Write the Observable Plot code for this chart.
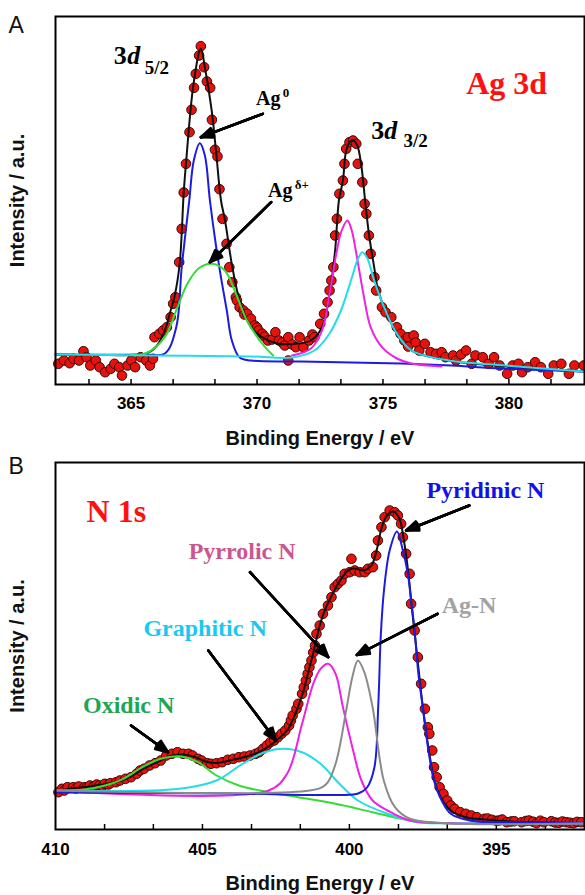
<!DOCTYPE html>
<html><head><meta charset="utf-8">
<script src="https://cdn.jsdelivr.net/npm/d3@7"></script>
<script src="https://cdn.jsdelivr.net/npm/@observablehq/plot@0.6"></script>
<style>
body{margin:0;background:#fff;}
#wrap{position:relative;width:585px;height:895px;overflow:hidden;background:#fff;}
#pa{position:absolute;left:0;top:0;}
#pb{position:absolute;left:0;top:455px;}
</style></head><body>
<div id="wrap"><div id="pa"></div><div id="pb"></div></div>
<script>
// ---------- Panel A: Ag 3d (binding energy eV, intensity a.u.) ----------
const agPoints = [[362.11,20.7],[362.33,24],[362.56,21.3],[362.71,25.7],[362.93,24],[363.11,33.3],[363.23,27.3],[363.38,19],[363.6,24],[363.75,17.3],[363.97,12.3],[364.19,15.7],[364.34,20.7],[364.53,17.3],[364.64,9],[364.86,19],[365.01,24],[365.16,17.3],[365.38,27.3],[365.6,24],[365.75,19],[365.87,25.7],[365.93,47.3],[366.12,50.7],[366.27,54],[366.42,57.3],[366.57,67.3],[366.67,80.7],[366.76,87.3],[366.91,122.3],[367.01,155.7],[367.09,192],[367.18,220.7],[367.32,252.3],[367.4,274.7],[367.5,296.7],[367.57,310.7],[367.7,329],[367.77,338.3],[367.9,317.3],[368.01,303],[368.14,296.7],[368.21,264.7],[368.33,234.7],[368.43,228],[368.51,195.3],[368.63,165.7],[368.79,140.7],[368.9,117.3],[369.02,102.3],[369.16,87.3],[369.2,84],[369.31,77.3],[369.46,74],[369.5,70],[369.61,70.7],[369.76,65.7],[369.91,59],[370.0,57],[370.06,54],[370.21,50.7],[370.3,48],[370.43,44],[370.6,45],[370.73,52.3],[370.87,44],[371.0,42],[371.1,39],[371.24,47.3],[371.24,24],[371.4,40],[371.54,37.3],[371.69,47.3],[371.84,37.3],[372.06,44],[372.2,50],[372.28,47.3],[372.51,60.7],[372.66,70.7],[372.8,82.3],[372.88,94],[372.95,104],[373.03,117.3],[373.1,149],[373.17,165.7],[373.27,190.7],[373.41,204],[373.47,220.7],[373.54,235.7],[373.67,242.3],[373.81,244],[373.94,240.7],[374.0,220.7],[374.18,202.3],[374.27,180.7],[374.34,170.7],[374.44,149],[374.51,130.7],[374.66,107.3],[374.73,94],[374.96,77.3],[375.1,72.3],[375.33,67.3],[375.55,57.3],[375.7,50.7],[375.85,44],[375.99,47.3],[376.0,38],[376.22,49],[376.3,42],[376.44,34],[376.66,40.7],[376.89,32.3],[377.11,30.7],[377.33,32.3],[377.48,27.3],[377.78,29],[377.9,24],[378.1,30],[378.3,34],[378.52,20.7],[378.67,29],[378.96,27.3],[379.19,20.7],[379.41,27.3],[379.63,19],[379.93,10.7],[380.15,19],[380.38,20.7],[380.52,12.3],[380.75,17.3],[381.04,22.3],[381.27,17.3],[381.56,10.7],[381.78,19],[382.08,20.7],[382.38,10.7],[382.6,19],[382.97,19]];
const agFit = [[362,30],[364,29.5],[365.6,31],[366.0,38],[366.34,54],[366.57,74],[366.72,87.3],[366.93,121],[367.09,192],[367.18,221],[367.48,300.7],[367.77,336],[367.93,317.3],[368.2,274],[368.37,234],[368.57,184],[368.73,164],[369.02,117.3],[369.31,84],[369.76,57.3],[370.2,47.3],[370.79,41],[371.54,40.7],[372.14,44],[372.58,57.3],[372.88,91],[373.1,134],[373.25,184],[373.41,204],[373.54,234],[373.7,243],[373.82,244],[373.98,239],[374.14,219],[374.29,184],[374.44,151],[374.65,117.3],[374.81,94],[375.1,74],[375.55,51],[376.13,34],[377.63,24],[379.9,18],[383,13]];
const ag0Peak = [[362,30],[365.5,30],[366.34,31],[366.79,57],[367.01,117],[367.31,184],[367.49,224],[367.73,241.3],[367.93,229],[368.13,184],[368.37,139],[368.57,107],[368.8,74],[369.0,44],[369.31,27],[369.76,24],[371.75,23],[375.73,21],[377.72,19],[379.7,16],[383,13]];
const agDeltaPeak = [[365.0,30],[365.58,31],[366.34,47.3],[366.79,74],[367.24,101],[367.68,116],[368.2,120.7],[368.72,114],[369.16,91],[369.6,64],[370.2,41],[370.64,29]];
const ag32aPeak = [[371.39,29],[372.14,36],[372.58,54],[372.88,91],[373.17,134],[373.36,154],[373.59,164],[373.76,154],[373.92,134],[374.22,91],[374.51,57.3],[374.96,37.3],[375.55,26],[376.13,21],[377.32,18]];
const ag32bPeak = [[362,30],[365.78,29],[369.76,28],[371.39,27],[372.28,34],[372.88,51],[373.33,74],[373.77,107.3],[373.98,124],[374.18,132.3],[374.38,126],[374.65,104],[375.1,74],[375.55,51],[376.13,34],[377.63,24],[379.85,19],[383,13]];
const agTickLabels = [365, 370, 375, 380];
const agMinorTicks = [363.33, 365, 366.67, 368.33, 370, 371.67, 373.33, 375, 376.67, 378.33, 380, 381.67];
const agArrows = [{x1:370.23,y1:270.7,x2:367.77,y2:247.3},{x1:370.56,y1:182.3,x2:368.13,y2:122.3}];
const agNotes = [
  {text:"Ag 3d", e:379.91, i:291, kind:"title"},
  {text:"3", e:364.31, i:321, kind:"big"},
  {text:"d", e:364.85, i:321, kind:"bigItalic"},
  {text:"5/2", e:365.54, i:311, kind:"sub"},
  {text:"3", e:374.53, i:245.7, kind:"big"},
  {text:"d", e:375.05, i:245.7, kind:"bigItalic"},
  {text:"3/2", e:375.81, i:237.3, kind:"sub"},
  {text:"Ag", e:369.96, i:280, kind:"small"},
  {text:"0", e:371.02, i:288, kind:"sup"},
  {text:"Ag", e:370.44, i:187.3, kind:"small"},
  {text:"δ+", e:371.5, i:196, kind:"sup"}
];

// ---------- Panel B: N 1s ----------
const nPoints = [[409.9,37.3],[409.78,40.7],[409.7,39],[409.59,42.3],[409.4,42.3],[409.3,41],[409.21,43],[409.02,42.3],[408.95,41.5],[408.83,44],[408.7,43.3],[408.6,45],[408.51,44],[408.4,43.5],[408.32,45.7],[408.2,45],[408.13,46.3],[407.94,47.3],[407.81,49],[407.62,50.7],[407.43,52.3],[407.24,55.7],[407.12,59],[406.99,60.7],[406.8,64],[406.61,66.3],[406.42,69],[406.23,74],[406.04,75.7],[405.85,77.3],[405.66,75.7],[405.47,75.7],[405.34,74],[405.15,70.7],[405.03,69],[404.84,66.3],[404.71,65.7],[404.52,66.3],[404.33,67.3],[404.14,69.7],[403.95,70.7],[403.76,72.3],[403.57,73],[403.38,74],[403.19,75.7],[403.07,77.3],[402.94,80.7],[402.81,84],[402.69,87.3],[402.56,89],[402.43,92.3],[402.31,95.7],[402.18,99],[402.05,104],[401.99,109],[401.93,114],[401.8,120.7],[401.74,125.7],[401.61,135.7],[401.55,142.3],[401.48,149],[401.42,155.7],[401.36,162.3],[401.29,169],[401.23,177],[401.17,184],[401.12,195.7],[401.01,204],[400.9,215.7],[400.73,224],[400.61,232.3],[400.5,242.3],[400.39,245.7],[400.27,249],[400.16,255.7],[399.99,257.3],[399.93,270.7],[399.82,259],[399.65,257.3],[399.48,257.3],[399.37,260.7],[399.2,262.3],[399.09,274],[399.03,289],[398.91,302.3],[398.8,312.3],[398.63,319],[398.46,317.3],[398.35,314],[398.24,305.7],[398.18,292.3],[398.07,275.7],[397.95,255.7],[397.9,225.7],[397.78,199],[397.67,172.3],[397.56,145.7],[397.43,120.7],[397.33,102.3],[397.28,95.7],[397.18,79],[397.12,62.3],[397.03,52.3],[396.93,42.3],[396.8,35.7],[396.67,29],[396.55,24],[396.42,20.7],[396.23,17.3],[396.04,15.7],[395.85,14],[395.66,12.3],[395.41,10.7],[395.3,11],[395.15,9.7],[395.0,8.7],[394.9,9],[394.8,10],[394.65,7.3],[394.5,8],[394.39,8.3],[394.14,7.3],[394.0,8.5],[393.89,9],[393.75,7.8],[393.63,6.3],[393.5,8.8],[393.38,7.3],[393.13,8.3],[393.0,7],[392.87,6.7],[392.75,8],[392.62,7.3],[392.5,6.8],[392.37,6.3],[392.25,7.6],[392.11,7.3]];
const nFit = [[410,38],[409.5,41],[409,42.5],[408.3,45.5],[407.6,50.5],[407.05,60],[406.5,68],[406.1,73.5],[405.7,75],[405.3,73],[404.9,68],[404.5,66.5],[404.0,69.5],[403.5,73],[403.1,77],[402.75,83],[402.4,91],[402.1,100],[401.85,115],[401.6,135],[401.4,157],[401.2,180],[401.0,205],[400.8,222],[400.6,234],[400.4,245],[400.2,254],[400.0,260],[399.8,261],[399.5,259],[399.25,264],[399.05,282],[398.9,302],[398.7,315],[398.5,318],[398.3,311],[398.15,290],[398.0,258],[397.85,215],[397.7,175],[397.5,122],[397.3,80],[397.1,48],[396.85,30],[396.5,18],[396,12],[395.4,10],[394.5,8],[392,6.5]];
const nOxidic = [[410,39],[409,40],[408.32,44],[407.69,50.7],[407.05,62.3],[406.42,70.7],[405.72,73],[405.15,67.3],[404.52,54],[403.76,44],[402.75,37.3],[401.74,32.3],[400.47,25.7],[399.21,17.3],[397.94,9],[396.67,6.3],[392,6]];
const nGraphitic = [[410,39],[405.79,40.7],[404.52,49],[403.64,65.7],[402.88,77.3],[402.24,80.7],[401.61,77.3],[400.98,65.7],[400.34,45.7],[399.71,29],[398.7,15.7],[397.69,7.3],[396.5,6.3],[392,6]];
const nPyrrolic = [[410,39],[402.75,39],[402.12,55.7],[401.61,105.7],[401.23,145.7],[400.98,160.7],[400.72,165.7],[400.47,155.7],[400.22,122.3],[399.9,82.3],[399.59,49],[399.21,29],[398.7,19],[397.94,9],[396.5,6.3],[392,6]];
const nAgN = [[410,39],[401.36,39],[400.8,45],[400.47,65.7],[400.09,122.3],[399.9,152.3],[399.71,169],[399.5,158],[399.21,122.3],[398.83,49],[398.45,22.3],[397.94,10.7],[396.67,6.3],[392,6]];
const nPyridinic = [[410,37],[404,36],[400.34,34.5],[399.7,36],[399.4,42],[399.15,62],[399.02,122],[398.93,195],[398.82,240],[398.63,279],[398.38,298],[398.18,279],[398.01,255.7],[397.9,229],[397.78,199],[397.65,155],[397.5,122],[397.31,79],[397.12,49],[396.86,29],[396.55,15.7],[395.91,9],[394,7],[392,6.3]];
const nTickLabels = [410, 405, 400, 395];
const nMinorTicks = [408.33, 406.67, 405, 403.33, 401.67, 400, 398.33, 396.67, 395, 393.33];
const nArrows = [{x1:395.92,y1:324,x2:398.07,y2:299},{x1:397.0,y1:215.7,x2:399.75,y2:174.5},{x1:403.38,y1:257.3,x2:400.72,y2:172.3},{x1:404.8,y1:179,x2:402.5,y2:89},{x1:407.43,y1:104,x2:406.17,y2:77.3}];
const nNotes = [
  {text:"N 1s", e:407.93, i:308, color:"#ff1010", size:32},
  {text:"Pyridinic N", e:395.37, i:332, color:"#1212e6", size:24},
  {text:"Pyrrolic N", e:403.65, i:271, color:"#cc5590", size:24},
  {text:"Graphitic N", e:404.91, i:194, color:"#1bc8ee", size:24},
  {text:"Ag-N", e:395.93, i:217, color:"#a3a3a3", size:24},
  {text:"Oxidic N", e:407.51, i:117, color:"#1fa652", size:24}
];

// ---------- drawing ----------
const SANS = "'Liberation Sans', Arial, Helvetica, sans-serif";
const SERIF = "'Liberation Serif', 'Times New Roman', Times, serif";
const pts = a => a.map(([e, i]) => ({e, i}));
const line = (a, stroke) => Plot.line(pts(a), {x:"e", y:"i", stroke, strokeWidth:2, curve:"catmull-rom"});
const dots = a => Plot.dot(pts(a), {x:"e", y:"i", r:4.8, fill:"#e8120c", stroke:"#3a0808", strokeWidth:1});
const fitLine = a => Plot.line(pts(a), {x:"e", y:"i", stroke:"#111", strokeWidth:2, curve:"catmull-rom"});
// arrow heads drawn several times with narrowing angles so that they look filled
const arrows = a => [44, 30, 16, 4].map(ang =>
  Plot.arrow(a, {x1:"x1", y1:"y1", x2:"x2", y2:"y2", stroke:"#000", strokeWidth:2.5, headLength:8, headAngle:ang}));

function axisMarks(minor, labels, pad) {
  return [
    Plot.axisX({ticks:minor, tickSize:-5, tickFormat:() => "", label:null, strokeWidth:1.5}),
    Plot.axisX({ticks:labels, tickSize:0, tickPadding:pad, label:null, tickFormat:d => String(d), fontSize:17, fontWeight:"bold", fontFamily:SANS}),
    Plot.text(["Binding Energy / eV"], {frameAnchor:"bottom", dy:60, lineAnchor:"bottom", fontSize:20, fontWeight:"bold", fontFamily:SANS, fill:"#111"}),
    Plot.text(["Intensity / a.u."], {frameAnchor:"left", dx:-38, rotate:-90, textAnchor:"middle", lineAnchor:"middle", fontSize:20, fontWeight:"bold", fontFamily:SANS, fill:"#111"})
  ];
}

const noteStyle = {
  title:{fontSize:32, fill:"#ff1010", textAnchor:"middle"},
  big:{fontSize:26, fill:"#000", textAnchor:"start"},
  bigItalic:{fontSize:26, fill:"#000", textAnchor:"start", fontStyle:"italic"},
  sub:{fontSize:19, fill:"#000", textAnchor:"start"},
  small:{fontSize:20, fill:"#000", textAnchor:"start"},
  sup:{fontSize:13, fill:"#000", textAnchor:"start"}
};
const agNoteMarks = Object.keys(noteStyle).map(k =>
  Plot.text(agNotes.filter(d => d.kind === k), {x:"e", y:"i", text:"text", lineAnchor:"bottom", fontFamily:SERIF, fontWeight:"bold", ...noteStyle[k]}));

const plotA = Plot.plot({
  width:585, height:455, marginTop:16, marginBottom:71, marginLeft:55, marginRight:1,
  x:{domain:[362, 383]}, y:{domain:[0, 368], axis:null},
  style:{background:"white", overflow:"visible"},
  marks:[
    ...axisMarks(agMinorTicks, agTickLabels, 12),
    dots(agPoints),
    fitLine(agFit),
    line(ag0Peak, "#1c1ce0"),
    line(agDeltaPeak, "#35dc35"),
    line(ag32aPeak, "#ee22e0"),
    line(ag32bPeak, "#25dce8"),
    ...arrows(agArrows),
    ...agNoteMarks,
    Plot.text(["A"], {frameAnchor:"top-left", dx:-47, dy:16, textAnchor:"start", lineAnchor:"bottom", fontSize:23, fontFamily:SANS, fill:"#111"}),
    Plot.frame({stroke:"#000", strokeWidth:2})
  ]
});
document.getElementById("pa").appendChild(plotA);

const plotB = Plot.plot({
  width:585, height:440, marginTop:7, marginBottom:66, marginLeft:55, marginRight:1,
  x:{domain:[410, 392]}, y:{domain:[0, 367], axis:null},
  style:{background:"white", overflow:"visible"},
  marks:[
    ...axisMarks(nMinorTicks, nTickLabels, 13),
    dots(nPoints),
    fitLine(nFit),
    line(nOxidic, "#35dc35"),
    line(nGraphitic, "#25dce8"),
    line(nPyrrolic, "#ee22e0"),
    line(nPyridinic, "#1c1ce0"),
    line(nAgN, "#8a8a8a"),
    ...arrows(nArrows),
    Plot.text(nNotes, {x:"e", y:"i", text:"text", fill:"color", fontSize:"size", lineAnchor:"bottom", textAnchor:"middle", fontFamily:SERIF, fontWeight:"bold"}),
    Plot.text(["B"], {frameAnchor:"top-left", dx:-47, dy:11, textAnchor:"start", lineAnchor:"bottom", fontSize:23, fontFamily:SANS, fill:"#111"}),
    Plot.frame({stroke:"#000", strokeWidth:2})
  ]
});
document.getElementById("pb").appendChild(plotB);
</script>
</body></html>
